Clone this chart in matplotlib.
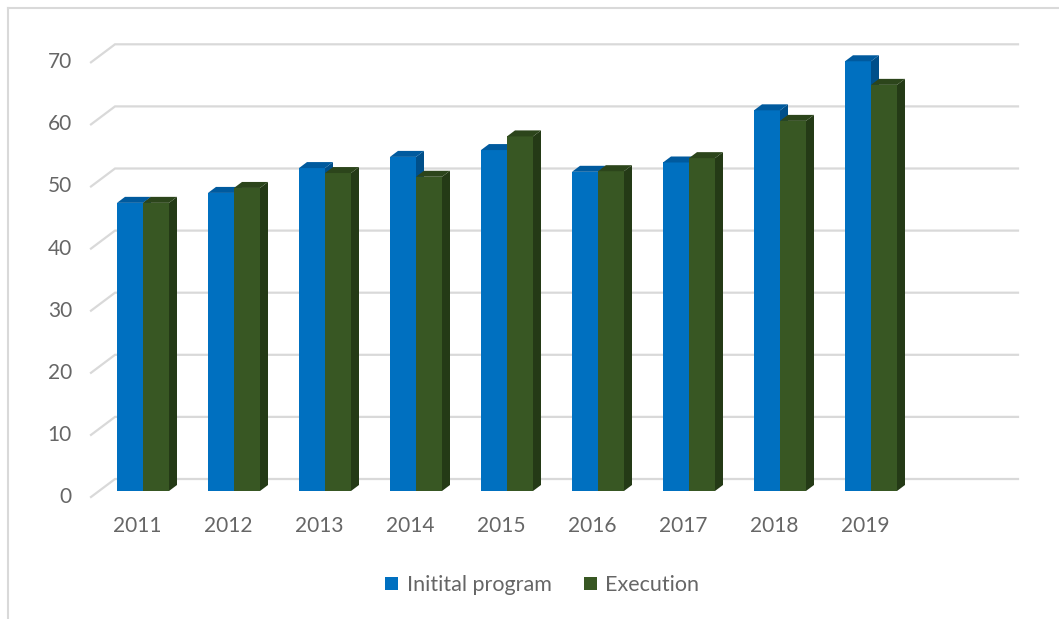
import numpy as np
import matplotlib
matplotlib.use("Agg")
import matplotlib.pyplot as plt
from matplotlib.patches import Polygon, Rectangle, Patch

# datos
years = ["2011", "2012", "2013", "2014", "2015", "2016", "2017", "2018", "2019"]
initial_program = [46.4, 48.0, 52.0, 53.8, 54.9, 51.4, 52.9, 61.3, 69.2]
execution = [46.4, 48.8, 51.2, 50.6, 57.1, 51.5, 53.6, 59.6, 65.4]
y_ticks = [0, 10, 20, 30, 40, 50, 60, 70]
series_names = ["Initital program", "Execution"]

W, H = 1059, 619
SLOT = 91.0      # px por categoria
UNIT = 6.21      # px por unidad de valor
X0 = 143.0       # px centro de 2011
Y0 = 491.0       # px valor 0 (plano frontal de barras)
DX = 1.0 / SLOT
DY = 1.0 / UNIT

BLUE = ("#0070C0", "#005A9E", "#004F8A")
GREEN = ("#385723", "#2C451B", "#243A16")
GRID = "#D9D9D9"
TXT = "#666666"
FS = 15


def px(x):
    return (x - X0) / SLOT


def py(y):
    return (Y0 - y) / UNIT


def draw_bar(ax, x0, w, v, colors):
    front, top, side = colors
    ox, oy = 8 * DX, 6 * DY
    ax.add_patch(Rectangle((x0, 0), w, v, facecolor=front, edgecolor="none", zorder=3))
    ax.add_patch(Polygon([(x0 + w, 0), (x0 + w + ox, oy), (x0 + w + ox, v + oy), (x0 + w, v)],
                         closed=True, facecolor=side, edgecolor="none", zorder=3))
    ax.add_patch(Polygon([(x0, v), (x0 + ox, v + oy), (x0 + w + ox, v + oy), (x0 + w, v)],
                         closed=True, facecolor=top, edgecolor="none", zorder=3))


def main():
    plt.rcParams["font.family"] = ["Lato", "DejaVu Sans"]
    fig = plt.figure(figsize=(W / 100, H / 100), dpi=100)
    ax = fig.add_axes([0, 0, 1, 1])
    ax.set_xlim(px(0), px(W))
    ax.set_ylim(py(H), py(0))
    ax.axis("off")

    # borde del grafico
    ax.plot([px(8), px(8)], [py(8), py(H)], color=GRID, lw=1.5)
    ax.plot([px(8), px(W)], [py(8), py(8)], color=GRID, lw=1.5)

    # lineas de cuadricula con perspectiva
    xf = px(91)
    xb = xf + 24 * DX
    xe = px(1018)
    for v in y_ticks:
        yf = v - 6 * DY
        yb = yf + 18 * DY
        ax.plot([xf, xb, xe], [yf, yb, yb], color=GRID, lw=1.6, zorder=1,
                solid_joinstyle="miter")
        ax.text(px(72), yf, str(v), ha="right", va="center", fontsize=FS, color=TXT)

    # barras
    w = 26 * DX
    for i in range(len(years)):
        draw_bar(ax, i - w, w, initial_program[i], BLUE)
        draw_bar(ax, i, w, execution[i], GREEN)
        ax.text(i - 6 * DX, py(526), years[i], ha="center", va="center",
                fontsize=FS, color=TXT)

    handles = [Patch(facecolor=BLUE[0]), Patch(facecolor=GREEN[0])]
    fig.legend(handles, series_names, loc="center", bbox_to_anchor=(0.512, 1 - 585 / H),
               ncol=2, frameon=False, fontsize=FS + 0.5, labelcolor=TXT,
               handlelength=0.6, handleheight=0.6, handletextpad=0.4, columnspacing=1.5)

    fig.savefig("out.png", dpi=100)


if __name__ == "__main__":
    main()
